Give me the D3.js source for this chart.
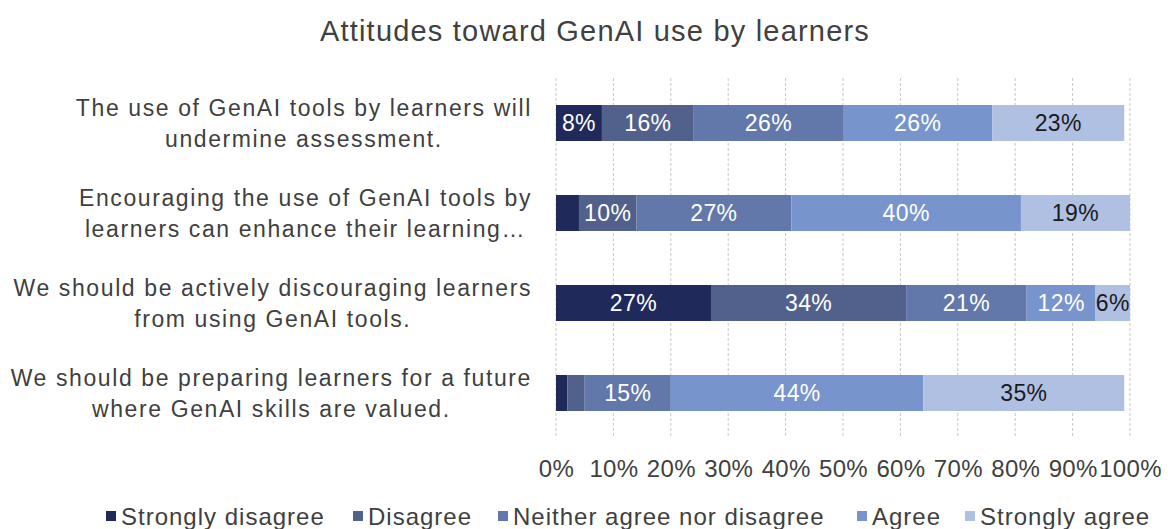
<!DOCTYPE html>
<html>
<head>
<meta charset="utf-8">
<script src="https://cdn.jsdelivr.net/npm/d3@7"></script>
<style>
  body { margin: 0; background: #fff; }
  text { font-family: "Liberation Sans", Arial, sans-serif; }
</style>
</head>
<body>
<div id="chart"></div>
<script>
// data
var categories = [
    ["The use of GenAI tools by learners will", "undermine assessment."],
    ["Encouraging the use of GenAI tools by", "learners can enhance their learning\u2026"],
    ["We should be actively discouraging learners", "from using GenAI tools."],
    ["We should be preparing learners for a future", "where GenAI skills are valued."]
];
var seriesNames = ["Strongly disagree", "Disagree", "Neither agree nor disagree", "Agree", "Strongly agree"];
var stronglyDisagree = [8, 4, 27, 2];
var disagree = [16, 10, 34, 3];
var neither = [26, 27, 21, 15];
var agree = [26, 40, 12, 44];
var stronglyAgree = [23, 19, 6, 35];
var xTicks = [0, 10, 20, 30, 40, 50, 60, 70, 80, 90, 100];

var colors = ["#1f2a5b", "#52618b", "#6378aa", "#7894cd", "#b0c0e3"];
var labelColors = ["#fff", "#fff", "#fff", "#fff", "#1a1a1a"];

var svgWidth = 1168;
var svgHeight = 529;

var svg = d3.select("#chart")
    .append("svg")
    .attr("width", svgWidth)
    .attr("height", svgHeight);

var rows = categories.map(function(c, i) {
    return {
        key: i,
        lines: c,
        values: [stronglyDisagree[i], disagree[i], neither[i], agree[i], stronglyAgree[i]]
    };
});

var xScale = d3.scaleLinear()
    .domain([0, 100])
    .range([556, 1130]);

var yScale = d3.scaleBand()
    .domain(rows.map(d => d.key))
    .range([78, 438])
    .paddingInner(0.6)
    .paddingOuter(0.3);

// title
svg.append("text")
    .attr("x", 595)
    .attr("y", 31)
    .attr("dy", "0.36em")
    .attr("text-anchor", "middle")
    .style("font-size", "29px")
    .style("letter-spacing", "1.2px")
    .style("fill", "#404040")
    .text("Attitudes toward GenAI use by learners");

// dashed gridlines
svg.append("g")
    .selectAll("line")
    .data(xTicks)
    .enter()
    .append("line")
    .attr("x1", d => xScale(d))
    .attr("x2", d => xScale(d))
    .attr("y1", 78)
    .attr("y2", 438)
    .attr("stroke", "#c8c8c8")
    .attr("stroke-width", 1)
    .attr("stroke-dasharray", "3,2");

// x axis labels
var xAxis = d3.axisBottom(xScale)
    .tickValues(xTicks)
    .tickSize(0)
    .tickPadding(0)
    .tickFormat(d => d + "%");

var axisG = svg.append("g")
    .attr("transform", "translate(0, 468)")
    .call(xAxis);
axisG.select(".domain").remove();
axisG.selectAll("text")
    .style("font-size", "24px")
    .style("letter-spacing", "0.3px")
    .style("font-family", "'Liberation Sans', Arial, sans-serif")
    .attr("fill", "#404040")
    .attr("dy", "0.36em");

// stacked bars
var stacked = rows.map(function(r) {
    var acc = 0;
    return r.values.map(function(v, j) {
        var seg = { key: r.key, s: j, v: v, x0: acc, x1: acc + v };
        acc += v;
        return seg;
    });
});
var segs = d3.merge(stacked);

svg.append("g")
    .selectAll("rect")
    .data(segs)
    .enter()
    .append("rect")
    .attr("x", d => xScale(d.x0))
    .attr("y", d => yScale(d.key))
    .attr("width", d => xScale(d.x1) - xScale(d.x0))
    .attr("height", yScale.bandwidth())
    .attr("fill", d => colors[d.s]);

svg.append("g")
    .selectAll("text")
    .data(segs.filter(d => d.v >= 5))
    .enter()
    .append("text")
    .attr("x", d => xScale((d.x0 + d.x1) / 2))
    .attr("y", d => yScale(d.key) + yScale.bandwidth() / 2)
    .attr("dy", "0.36em")
    .attr("text-anchor", "middle")
    .style("font-size", "23px")
    .style("letter-spacing", "0.4px")
    .style("fill", d => labelColors[d.s])
    .text(d => d.v + "%");

// category labels, two lines centered within a right aligned block
var catG = svg.append("g");
rows.forEach(function(r) {
    var cy = yScale(r.key) + yScale.bandwidth() / 2;
    var t = catG.append("text")
        .style("font-size", "23px")
        .style("letter-spacing", "1.6px")
        .style("fill", "#404040")
        .attr("text-anchor", "middle");
    r.lines.forEach(function(line, k) {
        t.append("tspan")
            .attr("y", cy + (k === 0 ? -15 : 16))
            .attr("dy", "0.36em")
            .text(line);
    });
    var w = d3.max(t.selectAll("tspan").nodes(), n => n.getComputedTextLength());
    t.selectAll("tspan").attr("x", 532 - w / 2);
});

// legend
var legendX = [106, 353, 498, 857, 965];
var legend = svg.append("g")
    .selectAll("g")
    .data(seriesNames)
    .enter()
    .append("g")
    .attr("transform", (d, i) => `translate(${legendX[i]}, 516)`);

legend.append("rect")
    .attr("x", 0)
    .attr("y", -5)
    .attr("width", 10)
    .attr("height", 10)
    .attr("fill", (d, i) => colors[i]);

legend.append("text")
    .attr("x", 15)
    .attr("y", 0)
    .attr("dy", "0.36em")
    .style("font-size", "24px")
    .style("letter-spacing", "1px")
    .style("fill", "#404040")
    .text(d => d);
</script>
</body>
</html>
